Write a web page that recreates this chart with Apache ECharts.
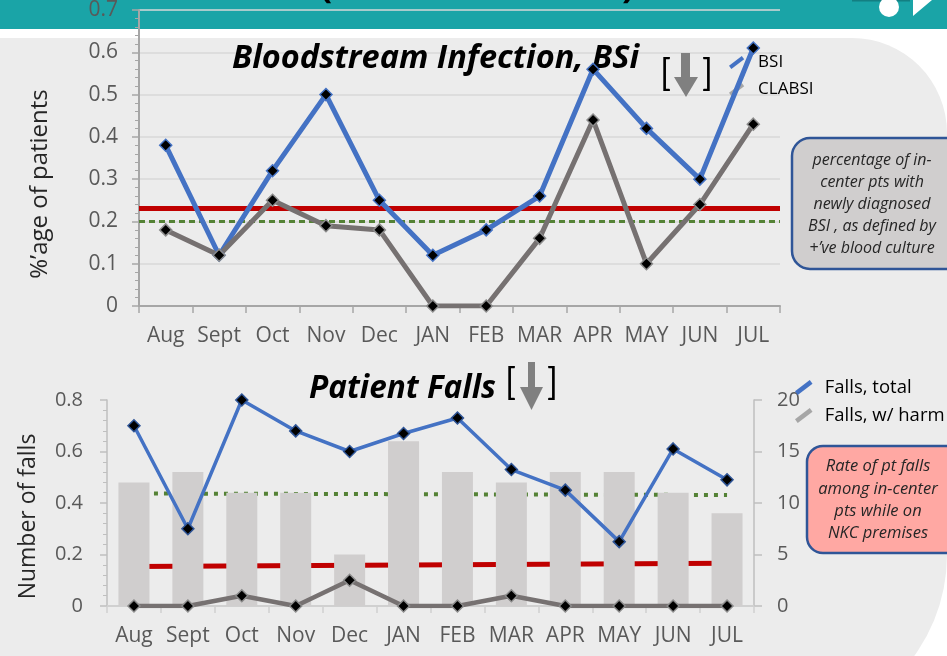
<!DOCTYPE html>
<html>
<head>
<meta charset="utf-8">
<script src="https://cdn.jsdelivr.net/npm/echarts@6/dist/echarts.min.js"></script>
<style>
  body { margin: 0; background: #fff; }
  #wrap { position: relative; width: 947px; height: 656px; overflow: hidden; }
  .header { position: absolute; left: 0; top: 0; width: 947px; height: 29px; background: #1AA4A7; }
  .panel { position: absolute; left: 0; top: 38px; width: 947px; height: 689px; background: #ECECEC; border-radius: 0 95px 172px 0; }
  #chart { position: absolute; left: 0; top: 0; width: 947px; height: 656px; }
</style>
</head>
<body>
<div id="wrap">
  <div class="header"></div>
  <div class="panel"></div>
  <div id="chart"></div>
</div>
<script>
// months shared by both panels
const months = ['Aug', 'Sept', 'Oct', 'Nov', 'Dec', 'JAN', 'FEB', 'MAR', 'APR', 'MAY', 'JUN', 'JUL'];

// top panel: bloodstream infections (%'age of patients)
const bsi = [0.38, 0.12, 0.32, 0.50, 0.25, 0.12, 0.18, 0.26, 0.56, 0.42, 0.30, 0.61];
const clabsi = [0.18, 0.12, 0.25, 0.19, 0.18, 0, 0, 0.16, 0.44, 0.10, 0.24, 0.43];
const bsiTarget = 0.233;
const bsiBenchmark = 0.195;
const bsiAxis = [0, 0.7, 0.1];

// bottom panel: patient falls
const fallsTotal = [0.70, 0.30, 0.80, 0.68, 0.60, 0.67, 0.73, 0.53, 0.45, 0.25, 0.61, 0.49];
const fallsHarm = [0, 0, 0.04, 0, 0.10, 0, 0, 0.04, 0, 0, 0, 0];
const fallCounts = [12, 13, 11, 11, 5, 16, 13, 12, 13, 13, 11, 9];
const fallsTarget = [0.153, 0.166];     // start / end of the red trend line
const fallsBenchmark = [0.437, 0.431];  // start / end of the green dotted line
const fallsAxis = [0, 0.8, 0.2];
const countAxis = [0, 20, 5];

const font = '"Open Sans", Lato, sans-serif';
// short slanted stroke used as legend icon
const slant = 'path://M0.3,9.4L13.3,-0.6L15.7,2.6L2.7,12.6Z';

const chart = echarts.init(document.getElementById('chart'));

const titleStyle = {fontWeight: 'bold', fontStyle: 'italic', color: '#000', fontFamily: font};

const option = {
    animation: false,
    textStyle: {fontFamily: font},
    title: [
        {text: 'Bloodstream Infection, BSi', left: 232, top: 42, padding: 0, textStyle: {...titleStyle, fontSize: 32.5}},
        {text: 'Patient Falls', left: 309, top: 373, padding: 0, textStyle: {...titleStyle, fontSize: 31.5}}
    ],
    legend: [
        {
            orient: 'vertical', left: 729, top: 54, padding: 0, selectedMode: false,
            itemWidth: 17, itemHeight: 13, itemGap: 10,
            textStyle: {fontSize: 17, color: '#000', padding: [0, 0, 0, 8]},
            data: [
                {name: 'BSI', icon: slant, itemStyle: {color: '#4472C4', borderWidth: 0}},
                {name: 'CLABSI', icon: slant, itemStyle: {color: '#A6A6A6', borderWidth: 0}}
            ]
        },
        {
            orient: 'vertical', left: 795, top: 378, padding: 0, selectedMode: false,
            itemWidth: 18, itemHeight: 15, itemGap: 9,
            textStyle: {fontSize: 18.5, color: '#000', padding: [0, 0, 0, 7]},
            data: [
                {name: 'Falls, total', icon: slant, itemStyle: {color: '#4472C4', borderWidth: 0}},
                {name: 'Falls, w/ harm', icon: slant, itemStyle: {color: '#A6A6A6', borderWidth: 0}}
            ]
        }
    ],
    grid: [
        {left: 139, right: 167, top: 10, bottom: 350, outerBoundsMode: 'none'},
        {left: 107, right: 193, top: 400, bottom: 50, outerBoundsMode: 'none'}
    ],
    xAxis: [
        {
            gridIndex: 0, type: 'category', data: months,
            axisLine: {lineStyle: {color: '#A6A6A6', width: 2}},
            axisTick: {show: true, length: 7, lineStyle: {color: '#A6A6A6', width: 1.5}},
            axisLabel: {color: '#595959', fontSize: 21, margin: 20, interval: 0}
        },
        {
            gridIndex: 1, type: 'category', data: months,
            axisLine: {lineStyle: {color: '#D0D0D0', width: 2}},
            axisTick: {show: true, length: 7, lineStyle: {color: '#D0D0D0', width: 1.5}},
            axisLabel: {color: '#595959', fontSize: 21, margin: 20, interval: 0}
        }
    ],
    yAxis: [
        {
            gridIndex: 0, type: 'value', min: bsiAxis[0], max: bsiAxis[1], interval: bsiAxis[2],
            name: '%’age of patients', nameLocation: 'middle', nameGap: 87,
            // the name sits a little below the middle of the axis
            nameTextStyle: {fontSize: 24, color: '#262626', padding: [0, 52, 0, 0]},
            axisLine: {show: true, lineStyle: {color: '#A6A6A6', width: 2}},
            axisTick: {show: true, length: 7, lineStyle: {color: '#A6A6A6', width: 1.5}},
            minorTick: {show: true, splitNumber: 5, length: 4, lineStyle: {color: '#A6A6A6'}},
            splitLine: {show: true, lineStyle: {color: '#D9D9D9', width: 1.5}},
            axisLabel: {color: '#595959', fontSize: 21, margin: 21}
        },
        {
            gridIndex: 1, type: 'value', min: fallsAxis[0], max: fallsAxis[1], interval: fallsAxis[2],
            name: 'Number of falls', nameLocation: 'middle', nameGap: 67,
            nameTextStyle: {fontSize: 23, color: '#262626', padding: [0, 27, 0, 0]},
            axisLine: {show: true, lineStyle: {color: '#BFBFBF', width: 1.5}},
            axisTick: {show: true, length: 7, lineStyle: {color: '#BFBFBF', width: 1.5}},
            minorTick: {show: true, splitNumber: 5, length: 4, lineStyle: {color: '#BFBFBF'}},
            splitLine: {show: false},
            axisLabel: {color: '#595959', fontSize: 20, margin: 24}
        },
        {
            gridIndex: 1, type: 'value', position: 'right',
            min: countAxis[0], max: countAxis[1], interval: countAxis[2],
            axisLine: {show: true, lineStyle: {color: '#BFBFBF', width: 1.5}},
            axisTick: {show: true, length: 8, lineStyle: {color: '#BFBFBF', width: 1.5}},
            splitLine: {show: false},
            axisLabel: {color: '#595959', fontSize: 20, margin: 23}
        }
    ],
    series: [
        {
            name: 'BSI', type: 'line', xAxisIndex: 0, yAxisIndex: 0, data: bsi, z: 6,
            symbol: 'diamond', symbolSize: 12,
            lineStyle: {color: '#4472C4', width: 5},
            itemStyle: {color: '#000', borderColor: '#4472C4', borderWidth: 1.5},
            markLine: {
                silent: true, symbol: 'none', label: {show: false},
                data: [
                    {yAxis: bsiTarget, lineStyle: {color: '#C00000', width: 5, type: 'solid'}},
                    {yAxis: bsiBenchmark, lineStyle: {color: '#548235', width: 3, type: [6, 4]}}
                ]
            }
        },
        {
            name: 'CLABSI', type: 'line', xAxisIndex: 0, yAxisIndex: 0, data: clabsi, z: 6,
            symbol: 'diamond', symbolSize: 12,
            lineStyle: {color: '#767171', width: 5},
            itemStyle: {color: '#000', borderColor: '#8C8C8C', borderWidth: 1.5}
        },
        {
            name: 'Fall count', type: 'bar', xAxisIndex: 1, yAxisIndex: 2, data: fallCounts, z: 6,
            barWidth: 31,
            itemStyle: {color: '#D0CECE'}
        },
        {
            name: 'Falls, total', type: 'line', xAxisIndex: 1, yAxisIndex: 1, data: fallsTotal, z: 7,
            symbol: 'diamond', symbolSize: 12,
            lineStyle: {color: '#4472C4', width: 3.5},
            itemStyle: {color: '#000', borderColor: '#2F5597', borderWidth: 1.5}
        },
        {
            name: 'Falls, w/ harm', type: 'line', xAxisIndex: 1, yAxisIndex: 1, data: fallsHarm, z: 7,
            symbol: 'diamond', symbolSize: 12,
            lineStyle: {color: '#767171', width: 4.5},
            itemStyle: {color: '#000', borderColor: '#8C8C8C', borderWidth: 1.5},
            // reference lines sit under the bars (markLine z is 5)
            markLine: {
                silent: true, symbol: 'none', label: {show: false},
                data: [
                    [
                        {coord: [months[0], fallsTarget[0]], lineStyle: {color: '#C00000', width: 5, type: 'solid'}},
                        {coord: [months[months.length - 1], fallsTarget[1]]}
                    ],
                    [
                        {coord: [months[0], fallsBenchmark[0]], lineStyle: {color: '#548235', width: 4, type: [4, 6]}},
                        {coord: [months[months.length - 1], fallsBenchmark[1]]}
                    ]
                ]
            }
        }
    ],
    graphic: [
        // bits of the slide header poking in at the top
        {type: 'text', z: 10, style: {text: '(', x: 320, y: -30, font: 'bold 36px "Open Sans"', fill: '#000'}},
        {type: 'text', z: 10, style: {text: ')', x: 622, y: -30, font: 'bold 36px "Open Sans"', fill: '#000'}},
        {type: 'rect', z: 10, shape: {x: 852, y: 0, width: 58, height: 1.5}, style: {fill: '#137F82'}},
        {type: 'circle', z: 10, shape: {cx: 889, cy: 7, r: 10}, style: {fill: '#fff'}},
        {type: 'polygon', z: 10, shape: {points: [[913, 0], [932, 0], [913, 16]]}, style: {fill: '#fff'}},

        // trend arrows
        {type: 'text', z: 10, style: {text: '[', x: 660, y: 74, verticalAlign: 'middle', font: '36px Lato', fill: '#000'}},
        {type: 'text', z: 10, style: {text: ']', x: 702, y: 74, verticalAlign: 'middle', font: '36px Lato', fill: '#000'}},
        {
            type: 'polygon', z: 10,
            shape: {points: [[681, 53], [690, 53], [690, 77], [698, 77], [686, 97], [674, 77], [681, 77]]},
            style: {fill: '#808080'}
        },
        {type: 'text', z: 10, style: {text: '[', x: 505, y: 383, verticalAlign: 'middle', font: '36px Lato', fill: '#000'}},
        {type: 'text', z: 10, style: {text: ']', x: 547, y: 383, verticalAlign: 'middle', font: '36px Lato', fill: '#000'}},
        {
            type: 'polygon', z: 10,
            shape: {points: [[528, 362], [535, 362], [535, 387], [543, 387], [531.5, 410], [520, 387], [528, 387]]},
            style: {fill: '#808080'}
        },

        // callouts
        {
            type: 'rect', z: 10, shape: {x: 792, y: 138, width: 175, height: 131, r: 18},
            style: {fill: '#D0CECE', stroke: '#2F5597', lineWidth: 2.5}
        },
        {
            type: 'text', z: 11,
            style: {
                text: 'percentage of in-\ncenter pts with\nnewly diagnosed\nBSI , as defined by\n+’ve blood culture',
                x: 872, y: 204, align: 'center', verticalAlign: 'middle',
                font: 'italic 16px "Open Sans"', lineHeight: 22, fill: '#262626'
            }
        },
        {
            type: 'rect', z: 10, shape: {x: 807, y: 446, width: 165, height: 107, r: 16},
            style: {fill: '#FFA8A3', stroke: '#2F5597', lineWidth: 2.5}
        },
        {
            type: 'text', z: 11,
            style: {
                text: 'Rate of pt falls\namong in-center\npts while on\nNKC premises',
                x: 878, y: 500, align: 'center', verticalAlign: 'middle',
                font: 'italic 16.5px "Open Sans"', lineHeight: 22.3, fill: '#262626'
            }
        }
    ]
};

chart.setOption(option);
</script>
</body>
</html>
